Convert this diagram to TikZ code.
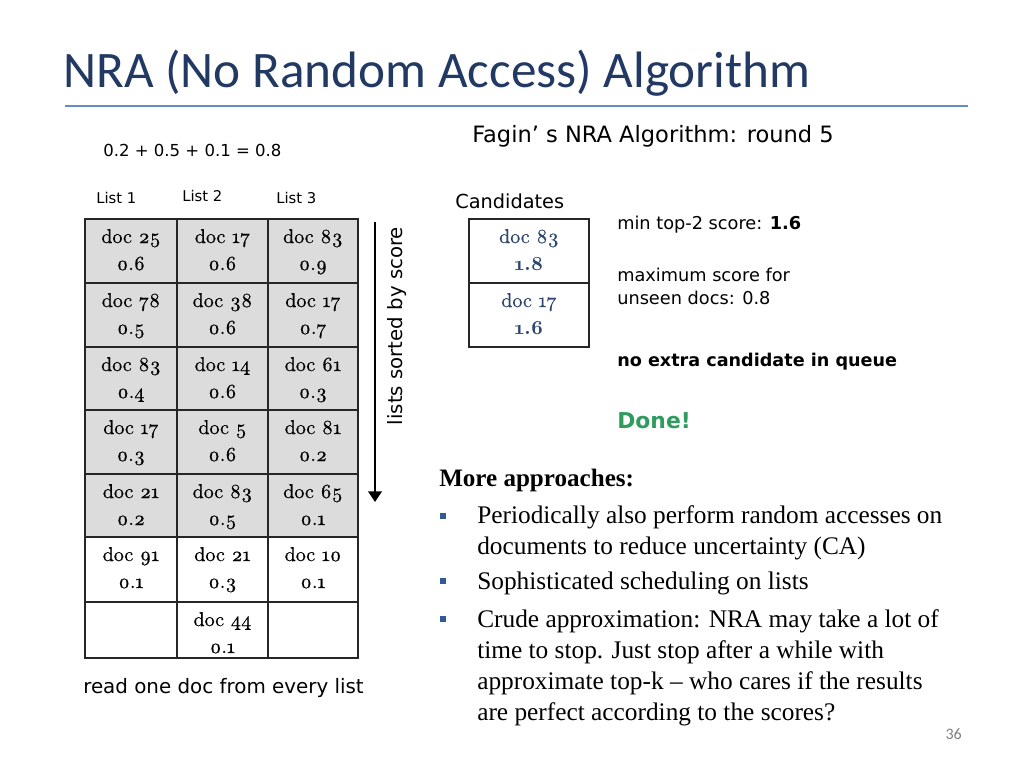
\documentclass[tikz,border=0pt]{standalone}
\usepackage{fontspec}
\usetikzlibrary{arrows.meta}
\newfontfamily\calfont{Carlito}
\newfontfamily\dvfont{DejaVu Sans}
\newfontfamily\tnrfont{Liberation Serif}[Ligatures=TeX]
\newfontfamily\geofont{lmroman10}[Extension=.otf, UprightFont=*-regular, BoldFont=*-bold, Numbers=OldStyle, UprightFeatures={FakeBold=0.6}]
\definecolor{titleblue}{RGB}{33,57,99}
\definecolor{ruleblue}{RGB}{100,140,200}
\definecolor{cellgray}{RGB}{220,220,220}
\definecolor{candblue}{RGB}{45,70,112}
\definecolor{donegreen}{RGB}{47,155,95}
\definecolor{bulletblue}{RGB}{46,92,150}
\newcommand\mkcell[8]{%
  \node[cellbox, fill=#6, minimum width={(#3-#2)*0.75pt}, minimum height={(#5-#4)*0.75pt}] (#1) at ({(#2+#3)/2},{(#4+#5)/2}) {};
  \node[celltxt] (#1a) at ([yshift=-18pt]#1.north) {doc #7};
  \node[celltxt] (#1b) at ([yshift=-38.25pt]#1.north) {0.#8};
}
\newcommand\mkempty[5]{%
  \node[cellbox, fill=white, minimum width={(#3-#2)*0.75pt}, minimum height={(#5-#4)*0.75pt}] (#1) at ({(#2+#3)/2},{(#4+#5)/2}) {};
}
\newcommand\mkcand[5]{%
  \node[cellbox, fill=white, minimum width={120*0.75pt}, minimum height={(#3-#2)*0.75pt}] (#1) at (529,{(#2+#3)/2}) {};
  \node[celltxt, text=candblue] (#1a) at ([yshift=-18pt]#1.north) {#4};
  \node[celltxt, text=candblue, font=\geofont\bfseries\fontsize{15}{18}\selectfont] (#1b) at ([yshift=-38.25pt]#1.north) {#5};
}
\begin{document}
\begin{tikzpicture}[x=0.75pt,y=-0.75pt,
  cellbox/.style={draw=black!85, line width=1.1pt, inner sep=0pt, outer sep=0pt, rectangle},
  celltxt/.style={anchor=base, inner sep=0pt, font=\geofont\fontsize{15}{18}\selectfont},
  sanstxt/.style={anchor=base west, inner sep=0pt, font=\dvfont\fontsize{13.3}{16}\selectfont},
  serif/.style={anchor=base west, inner sep=0pt, font=\tnrfont\fontsize{19}{23}\selectfont},
  bulletsq/.style={rectangle, fill=bulletblue, inner sep=0pt, minimum size=5pt}]
\useasboundingbox (0,0) rectangle (1024,768);
\fill[white] (0,0) rectangle (1024,768);

% title
\node[anchor=base west, inner sep=0pt, text=titleblue, font=\calfont\fontsize{38.4}{44}\selectfont] (title) at (63,87) {NRA (No Random Access) Algorithm};
\coordinate (rl) at (65,106);
\coordinate (rr) at (968,106);
\draw[ruleblue, line width=1.2pt] (rl) -- (rr);

% left side
\node[sanstxt, font=\dvfont\fontsize{12.4}{15}\selectfont] (eq) at (103,156) {0.2 + 0.5 + 0.1 = 0.8};
\node[sanstxt, font=\dvfont\fontsize{11.1}{14}\selectfont] (l1) at (96,203) {List 1};
\node[sanstxt, font=\dvfont\fontsize{11.1}{14}\selectfont] (l2) at (182,201) {List 2};
\node[sanstxt, font=\dvfont\fontsize{11.1}{14}\selectfont] (l3) at (276,203) {List 3};

\mkcell{c11}{85}{177}{219}{283}{cellgray}{25}{6}
\mkcell{c12}{177}{268}{219}{283}{cellgray}{17}{6}
\mkcell{c13}{268}{358}{219}{283}{cellgray}{83}{9}
\mkcell{c21}{85}{177}{283}{347}{cellgray}{78}{5}
\mkcell{c22}{177}{268}{283}{347}{cellgray}{38}{6}
\mkcell{c23}{268}{358}{283}{347}{cellgray}{17}{7}
\mkcell{c31}{85}{177}{347}{410}{cellgray}{83}{4}
\mkcell{c32}{177}{268}{347}{410}{cellgray}{14}{6}
\mkcell{c33}{268}{358}{347}{410}{cellgray}{61}{3}
\mkcell{c41}{85}{177}{410}{474}{cellgray}{17}{3}
\mkcell{c42}{177}{268}{410}{474}{cellgray}{5}{6}
\mkcell{c43}{268}{358}{410}{474}{cellgray}{81}{2}
\mkcell{c51}{85}{177}{474}{537}{cellgray}{21}{2}
\mkcell{c52}{177}{268}{474}{537}{cellgray}{83}{5}
\mkcell{c53}{268}{358}{474}{537}{cellgray}{65}{1}
\mkcell{c61}{85}{177}{537}{602}{white}{91}{1}
\mkcell{c62}{177}{268}{537}{602}{white}{21}{3}
\mkcell{c63}{268}{358}{537}{602}{white}{10}{1}
\mkempty{c71}{85}{177}{602}{658}
\mkcell{c72}{177}{268}{602}{658}{white}{44}{1}
\mkempty{c73}{268}{358}{602}{658}

\coordinate (atop) at (375,222);
\coordinate (abot) at (375,502);
\draw[line width=2.2pt, -{Triangle[width=10pt,length=8pt]}] (atop) -- (abot);
\node[anchor=base, rotate=90, inner sep=0pt, font=\dvfont\fontsize{14.8}{18}\selectfont] (sorted) at (402,326) {lists sorted by score};

\node[sanstxt, font=\dvfont\fontsize{14.9}{18}\selectfont] (read) at (83,693) {read one doc from every list};

% right side
\node[sanstxt, font=\dvfont\fontsize{16.9}{20}\selectfont] (fagin) at (472,142) {Fagin’ s NRA Algorithm: round 5};
\node[sanstxt, font=\dvfont\fontsize{14.5}{18}\selectfont] (cand) at (455,208) {Candidates};
\mkcand{k1}{219}{283}{doc 83}{1.8}
\mkcand{k2}{283}{347}{doc 17}{1.6}

\node[sanstxt] (mintop) at (617,229) {min top-2 score: \textbf{1.6}};
\node[sanstxt] (max1) at (617,281) {maximum score for};
\node[sanstxt] (max2) at (617,304) {unseen docs: 0.8};
\node[sanstxt, font=\dvfont\bfseries\fontsize{13.2}{16}\selectfont] (noextra) at (617,366) {no extra candidate in queue};
\node[sanstxt, text=donegreen, font=\dvfont\bfseries\fontsize{16.4}{20}\selectfont] (done) at (617,428) {Done!};

\node[serif, font=\tnrfont\bfseries\fontsize{18.8}{23}\selectfont] (more) at (439,486) {More approaches:};
\node[bulletsq] (b1) at (443,516) {};
\node[bulletsq] (b2) at (443,581) {};
\node[bulletsq] (b3) at (443,619) {};
\node[serif] (t1a) at (477,523) {Periodically also perform random accesses on};
\node[serif] (t1b) at (477,554) {documents to reduce uncertainty (CA)};
\node[serif] (t2) at (477,589) {Sophisticated scheduling on lists};
\node[serif] (t3a) at (477,627) {Crude approximation: NRA may take a lot of};
\node[serif] (t3b) at (477,658) {time to stop. Just stop after a while with};
\node[serif] (t3c) at (477,689) {approximate top-k – who cares if the results};
\node[serif] (t3d) at (477,720) {are perfect according to the scores?};

\node[anchor=base east, inner sep=0pt, text=black!50, font=\calfont\fontsize{12}{14}\selectfont] (pg) at (962,739) {36};
\end{tikzpicture}
\end{document}
